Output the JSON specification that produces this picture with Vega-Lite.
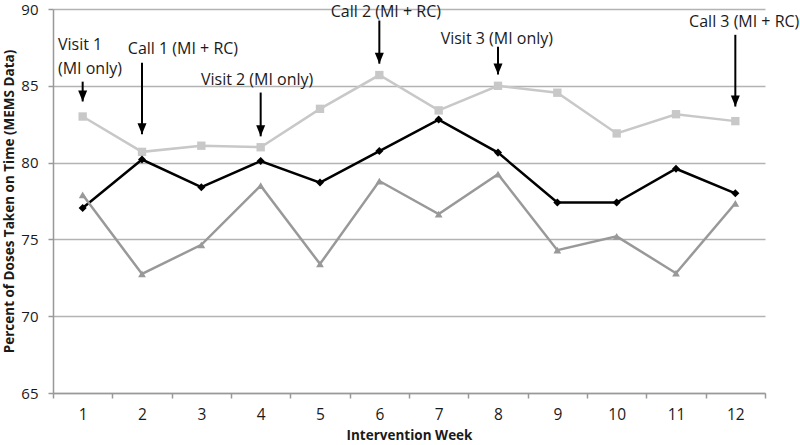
{
  "$schema": "https://vega.github.io/schema/vega-lite/v6.json",
  "width": 712,
  "height": 384,
  "autosize": {"type": "none"},
  "padding": {"left": 53, "top": 9, "right": 35, "bottom": 52},
  "config": {"view": {"stroke": null}, "font": "Open Sans"},
  "datasets": {
    "series": [
      {"week": 1, "series": "Light", "value": 83.0},
      {"week": 2, "series": "Light", "value": 80.7},
      {"week": 3, "series": "Light", "value": 81.1},
      {"week": 4, "series": "Light", "value": 81.0},
      {"week": 5, "series": "Light", "value": 83.5},
      {"week": 6, "series": "Light", "value": 85.7},
      {"week": 7, "series": "Light", "value": 83.4},
      {"week": 8, "series": "Light", "value": 85.0},
      {"week": 9, "series": "Light", "value": 84.55},
      {"week": 10, "series": "Light", "value": 81.9},
      {"week": 11, "series": "Light", "value": 83.15},
      {"week": 12, "series": "Light", "value": 82.7},
      {"week": 1, "series": "Black", "value": 77.05},
      {"week": 2, "series": "Black", "value": 80.2},
      {"week": 3, "series": "Black", "value": 78.4},
      {"week": 4, "series": "Black", "value": 80.1},
      {"week": 5, "series": "Black", "value": 78.7},
      {"week": 6, "series": "Black", "value": 80.75},
      {"week": 7, "series": "Black", "value": 82.8},
      {"week": 8, "series": "Black", "value": 80.65},
      {"week": 9, "series": "Black", "value": 77.4},
      {"week": 10, "series": "Black", "value": 77.4},
      {"week": 11, "series": "Black", "value": 79.6},
      {"week": 12, "series": "Black", "value": 78.0},
      {"week": 1, "series": "Gray", "value": 77.9},
      {"week": 2, "series": "Gray", "value": 72.75},
      {"week": 3, "series": "Gray", "value": 74.65},
      {"week": 4, "series": "Gray", "value": 78.5},
      {"week": 5, "series": "Gray", "value": 73.4},
      {"week": 6, "series": "Gray", "value": 78.8},
      {"week": 7, "series": "Gray", "value": 76.65},
      {"week": 8, "series": "Gray", "value": 79.25},
      {"week": 9, "series": "Gray", "value": 74.3},
      {"week": 10, "series": "Gray", "value": 75.2},
      {"week": 11, "series": "Gray", "value": 72.8},
      {"week": 12, "series": "Gray", "value": 77.35}
    ],
    "arrows": [
      {"week": 1, "top": 85.27, "tip": 83.98},
      {"week": 2, "top": 86.5, "tip": 81.84},
      {"week": 4, "top": 84.56, "tip": 81.71},
      {"week": 6, "top": 89.25, "tip": 86.44},
      {"week": 8, "top": 87.54, "tip": 85.73},
      {"week": 12, "top": 88.32, "tip": 83.65}
    ],
    "labels": [
      {"xpos": 2.69, "ypos": 87.41, "label": "Call 1 (MI + RC)"},
      {"xpos": 3.94, "ypos": 85.4, "label": "Visit 2 (MI only)"},
      {"xpos": 6.11, "ypos": 89.82, "label": "Call 2 (MI + RC)"},
      {"xpos": 7.98, "ypos": 88.06, "label": "Visit 3 (MI only)"},
      {"xpos": 12.15, "ypos": 89.16, "label": "Call 3 (MI + RC)"}
    ],
    "leftlabels": [
      {"xpos": 0.584, "ypos": 87.67, "label": "Visit 1"},
      {"xpos": 0.584, "ypos": 86.11, "label": "(MI only)"}
    ]
  },
  "layer": [
    {
      "data": {"name": "series"},
      "mark": {"type": "line", "strokeWidth": 2.5},
      "encoding": {
        "x": {
          "field": "week", "type": "quantitative",
          "scale": {"domain": [0.5, 12.5], "nice": false, "zero": false},
          "axis": {
            "values": [0.5, 1.5, 2.5, 3.5, 4.5, 5.5, 6.5, 7.5, 8.5, 9.5, 10.5, 11.5, 12.5],
            "labelExpr": "datum.value < 12 ? format(datum.value + 0.5, 'd') : ''",
            "labelOffset": 29.67,
            "labelOverlap": false,
            "labelBound": false,
            "labelFlush": false,
            "grid": false,
            "domainColor": "#999999",
            "domainWidth": 1.5,
            "tickColor": "#999999",
            "tickWidth": 1.5,
            "tickSize": 5,
            "labelFontSize": 15.5,
            "labelColor": "#1a1a1a",
            "labelPadding": 9,
            "title": "Intervention Week",
            "titleFontSize": 13.5,
            "titleFontWeight": "bold",
            "titleColor": "#1a1a1a",
            "titlePadding": 6
          }
        },
        "y": {
          "field": "value", "type": "quantitative",
          "scale": {"domain": [65, 90], "nice": false, "zero": false},
          "axis": {
            "values": [65, 70, 75, 80, 85, 90],
            "grid": true,
            "gridColor": "#b3b3b3",
            "gridWidth": 1.5,
            "domainColor": "#999999",
            "domainWidth": 1.5,
            "tickColor": "#999999",
            "tickWidth": 1.5,
            "tickSize": 5,
            "labelFontSize": 15,
            "labelColor": "#1a1a1a",
            "labelPadding": 10,
            "title": "Percent of Doses Taken on Time (MEMS Data)",
            "titleFontSize": 13.5,
            "titleFontWeight": "bold",
            "titleColor": "#1a1a1a",
            "titlePadding": 4
          }
        },
        "color": {
          "field": "series", "type": "nominal",
          "scale": {"domain": ["Light", "Black", "Gray"], "range": ["#c8c8c8", "#000000", "#999999"]},
          "legend": null
        },
        "order": {"field": "week", "type": "quantitative"}
      }
    },
    {
      "data": {"name": "series"},
      "mark": {"type": "point", "filled": true, "opacity": 1},
      "encoding": {
        "x": {"field": "week", "type": "quantitative"},
        "y": {"field": "value", "type": "quantitative"},
        "color": {
          "field": "series", "type": "nominal",
          "scale": {"domain": ["Light", "Black", "Gray"], "range": ["#c8c8c8", "#000000", "#999999"]},
          "legend": null
        },
        "shape": {
          "field": "series", "type": "nominal",
          "scale": {"domain": ["Light", "Black", "Gray"], "range": ["square", "diamond", "triangle-up"]},
          "legend": null
        },
        "size": {
          "field": "series", "type": "nominal",
          "scale": {"domain": ["Light", "Black", "Gray"], "range": [70, 60, 70]},
          "legend": null
        }
      }
    },
    {
      "data": {"name": "arrows"},
      "mark": {"type": "rule", "color": "#000000", "strokeWidth": 2},
      "encoding": {
        "x": {"field": "week", "type": "quantitative"},
        "y": {"field": "top", "type": "quantitative"},
        "y2": {"field": "tip"}
      }
    },
    {
      "data": {"name": "arrows"},
      "mark": {"type": "point", "filled": true, "opacity": 1, "color": "#000000", "shape": "M-0.9,-2.2L0.9,-2.2L0,0Z", "size": 100, "strokeWidth": 0},
      "encoding": {
        "x": {"field": "week", "type": "quantitative"},
        "y": {"field": "tip", "type": "quantitative"}
      }
    },
    {
      "data": {"name": "labels"},
      "mark": {"type": "text", "align": "center", "baseline": "middle", "fontSize": 16, "color": "#1a1a1a"},
      "encoding": {
        "x": {"field": "xpos", "type": "quantitative"},
        "y": {"field": "ypos", "type": "quantitative"},
        "text": {"field": "label"}
      }
    },
    {
      "data": {"name": "leftlabels"},
      "mark": {"type": "text", "align": "left", "baseline": "middle", "fontSize": 16, "color": "#1a1a1a"},
      "encoding": {
        "x": {"field": "xpos", "type": "quantitative"},
        "y": {"field": "ypos", "type": "quantitative"},
        "text": {"field": "label"}
      }
    }
  ]
}
